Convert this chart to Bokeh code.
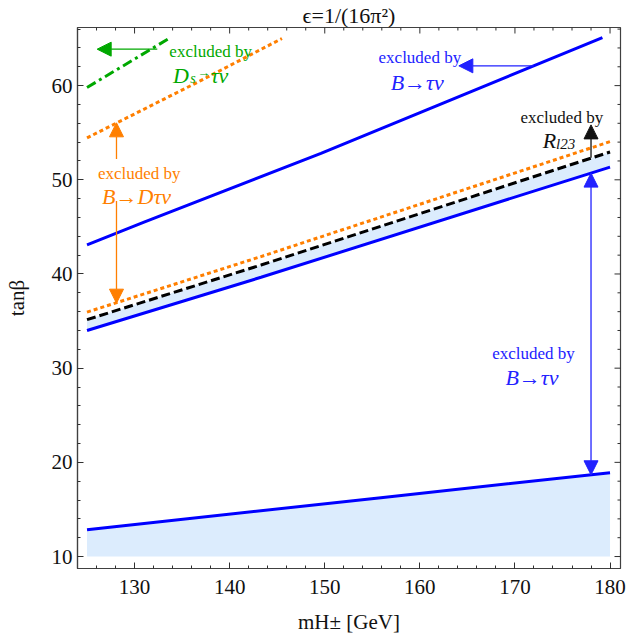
from bokeh.plotting import figure
from bokeh.models import Range1d, SingleIntervalTicker, Label, Arrow, NormalHead
from bokeh.embed import file_html
from bokeh.resources import INLINE

# ---------------- data ----------------
m_btaunu_upper = [125.0, 131.0, 149.6, 179.2]
tb_btaunu_upper = [43.1, 45.5, 52.8, 65.1]

m_band = [125.0, 143.3, 180.0]
tb_btaunu_lower = [34.0, 39.65, 51.35]
tb_rl23 = [35.15, 40.95, 52.95]
tb_bdtaunu_lower = [35.95, 41.85, 54.05]

m_bdtaunu_upper = [125.0, 136.9, 145.5]
tb_bdtaunu_upper = [54.45, 60.5, 65.0]

m_ds = [125.0, 133.6]
tb_ds = [59.8, 65.0]

m_low = [125.0, 155.9, 180.0]
tb_low = [12.85, 16.25, 18.9]
tb_floor = [10.0, 10.0, 10.0]

x_major_ticks = [130, 140, 150, 160, 170, 180]
x_minor_ticks = [126, 128, 132, 134, 136, 138, 142, 144, 146, 148, 152, 154, 156, 158,
                 162, 164, 166, 168, 172, 174, 176, 178]
y_major_ticks = [10, 20, 30, 40, 50, 60]
y_minor_ticks = [12, 14, 16, 18, 22, 24, 26, 28, 32, 34, 36, 38, 42, 44, 46, 48,
                 52, 54, 56, 58, 62, 64, 66]

# ---------------- styles ----------------
SERIF = "Liberation Serif"
BLUE = "#0000ff"
BLUE_T = "#2222ff"
ORANGE = "#ff7f00"
GREEN = "#00a800"
FILL = "#dcecfd"
INK = "#111111"
FRAME = "#404040"

X0, X1 = 124.0, 181.1
Y0, Y1 = 8.73, 66.17

p = figure(width=627, height=642, output_backend="svg", toolbar_location=None,
           x_range=Range1d(X0, X1), y_range=Range1d(Y0, Y1),
           min_border_left=77, min_border_right=7, min_border_top=25,
           min_border_bottom=74)
p.xgrid.visible = False
p.ygrid.visible = False
p.outline_line_color = FRAME
p.outline_line_width = 1.2
p.background_fill_color = "white"
p.border_fill_color = "white"

p.title.text = "ϵ=1/(16π²)"
p.title.align = "center"
p.title.text_font = SERIF
p.title.text_font_size = "22px"
p.title.text_font_style = "normal"
p.title.text_color = INK
p.title.standoff = 0

for ax, tk in ((p.xaxis[0], SingleIntervalTicker(interval=10, num_minor_ticks=5)),
               (p.yaxis[0], SingleIntervalTicker(interval=10, num_minor_ticks=5))):
    ax.ticker = tk
    ax.axis_line_color = FRAME
    ax.axis_line_width = 1.2
    ax.major_tick_in = 6
    ax.major_tick_out = 0
    ax.minor_tick_in = 3
    ax.minor_tick_out = 0
    ax.major_tick_line_color = "#303030"
    ax.minor_tick_line_color = "#303030"
    ax.major_label_text_font = SERIF
    ax.major_label_text_font_size = "21px"
    ax.major_label_text_color = INK
    ax.axis_label_text_font = SERIF
    ax.axis_label_text_font_size = "21px"
    ax.axis_label_text_font_style = "normal"
    ax.axis_label_text_color = INK

p.xaxis.major_label_standoff = 11
p.yaxis.major_label_standoff = 5
p.xaxis.axis_label = "mH± [GeV]"
p.yaxis.axis_label = "tanβ"
p.xaxis.axis_label_standoff = 13
p.yaxis.axis_label_standoff = 20

# mirrored inward ticks on the top and right edges (clipped half-dashes)
p.scatter(x_major_ticks, [Y1] * len(x_major_ticks), marker="dash", angle=1.5708,
          size=12, line_color="#303030", line_width=1)
p.scatter(x_minor_ticks, [Y1] * len(x_minor_ticks), marker="dash", angle=1.5708,
          size=6, line_color="#303030", line_width=1)
p.scatter([X1] * len(y_major_ticks), y_major_ticks, marker="dash",
          size=12, line_color="#303030", line_width=1)
p.scatter([X1] * len(y_minor_ticks), y_minor_ticks, marker="dash",
          size=6, line_color="#303030", line_width=1)

# ---------------- fills ----------------
p.varea(x=m_low, y1=tb_floor, y2=tb_low, fill_color=FILL)
p.varea(x=m_band, y1=tb_btaunu_lower, y2=tb_rl23, fill_color=FILL)

# ---------------- lines ----------------
p.line(m_low, tb_low, line_color=BLUE, line_width=3)
p.line(m_band, tb_btaunu_lower, line_color=BLUE, line_width=3)
p.line(m_btaunu_upper, tb_btaunu_upper, line_color=BLUE, line_width=3)
p.line(m_band, tb_rl23, line_color="black", line_width=3, line_dash="9 4")
p.line(m_band, tb_bdtaunu_lower, line_color=ORANGE, line_width=3, line_dash="4 3")
p.line(m_bdtaunu_upper, tb_bdtaunu_upper, line_color=ORANGE, line_width=3, line_dash="4 3")
p.line(m_ds, tb_ds, line_color=GREEN, line_width=3, line_dash="10 4 3 4")


# ---------------- annotations ----------------
def lab(text, x, y, size, color, italic=False, align="left"):
    p.add_layout(Label(x=x, y=y, text=text, text_font=SERIF,
                       text_font_size=f"{size}px",
                       text_font_style="italic" if italic else "normal",
                       text_color=color, text_align=align,
                       text_baseline="alphabetic"))


def arr(x0, y0, x1, y1, color, both=False):
    a = Arrow(end=NormalHead(size=14, fill_color=color, line_color=color, line_width=1),
              x_start=x0, y_start=y0, x_end=x1, y_end=y1,
              line_color=color, line_width=1.3)
    if both:
        a.start = NormalHead(size=14, fill_color=color, line_color=color, line_width=1)
    p.add_layout(a)


EXC = "excluded by"

# D_s -> tau nu (green)
lab(EXC, 138.0, 63.63, 17, GREEN, align="center")
lab("D", 134.03, 61.12, 22, GREEN, italic=True)
lab("s", 135.85, 60.77, 14, GREEN, italic=True)
lab("→", 136.6, 61.41, 13, GREEN)
lab("τν", 138.0, 61.12, 22, GREEN, italic=True)
arr(132.39, 63.87, 126.07, 63.87, GREEN)

# B -> tau nu (upper, blue)
lab(EXC, 160.0, 62.99, 17, BLUE_T, align="center")
lab("B→τν", 159.72, 60.35, 22, BLUE_T, italic=True, align="center")
arr(171.96, 62.1, 164.1, 62.1, BLUE_T)

# B -> D tau nu (orange)
lab(EXC, 130.49, 50.65, 17, ORANGE, align="center")
lab("B→Dτν", 130.21, 48.18, 22, ORANGE, italic=True, align="center")
arr(128.1, 52.2, 128.1, 56.05, ORANGE)
arr(128.1, 47.76, 128.1, 36.9, ORANGE)

# R_l23 (black)
lab(EXC, 174.93, 56.65, 17, INK, align="center")
lab("R", 172.92, 54.18, 22, INK, italic=True)
lab("l23", 174.32, 53.82, 15, INK, italic=True)
arr(178.0, 52.33, 178.0, 55.83, INK)

# B -> tau nu (lower, blue)
lab(EXC, 171.95, 31.61, 17, BLUE_T, align="center")
lab("B→τν", 171.79, 29.04, 22, BLUE_T, italic=True, align="center")
arr(178.0, 18.68, 178.0, 50.71, BLUE_T, both=True)

open("out.html", "w").write(file_html(p, INLINE))
